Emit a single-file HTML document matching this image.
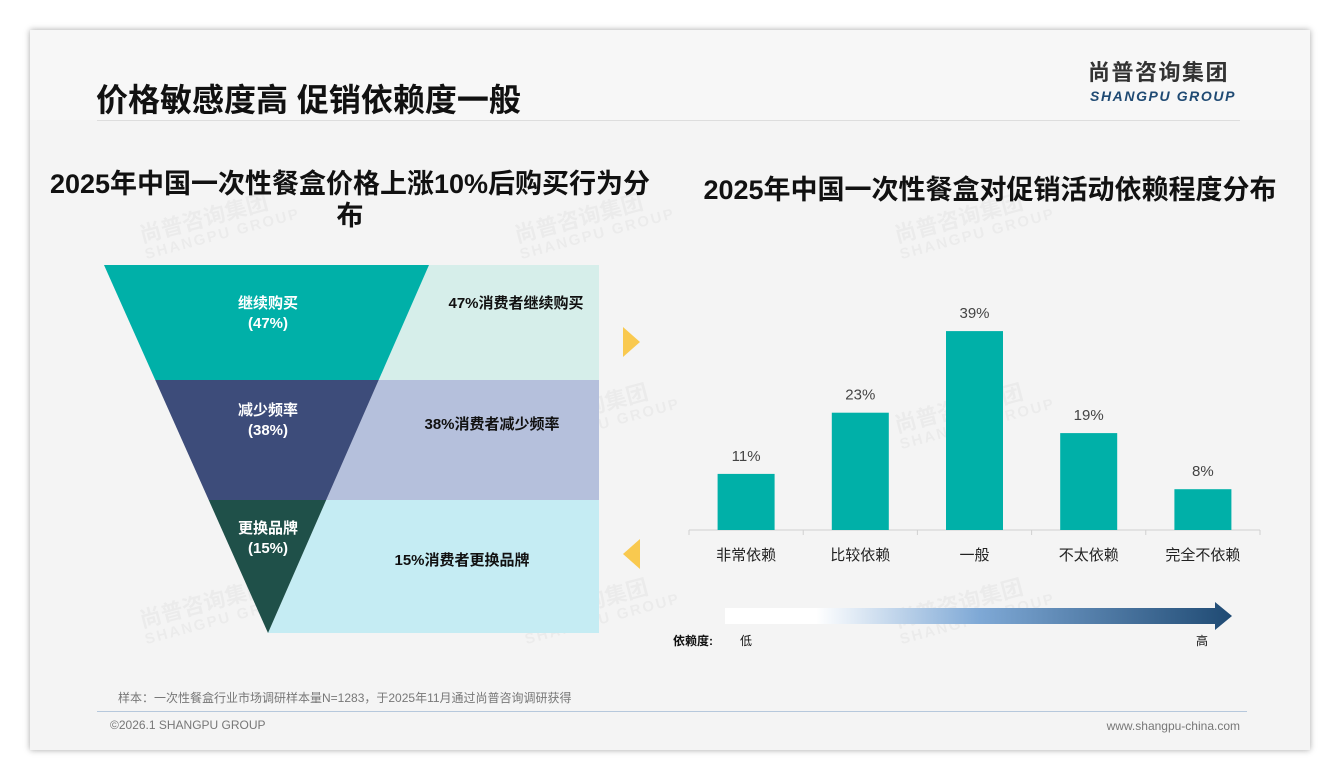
<!DOCTYPE html>
<html><head><meta charset="utf-8"><style>
body{margin:0;width:1340px;height:780px;background:#fff;font-family:"Liberation Sans","Noto Sans CJK SC",sans-serif;position:relative;overflow:hidden}
.slide{position:absolute;left:30px;top:30px;width:1280px;height:720px;background:#f4f4f4;box-shadow:0 0 6px rgba(0,0,0,.35)}
.abs{position:absolute}
.wm{position:absolute;color:rgba(0,0,0,0.035);font-weight:bold;transform:rotate(-15deg);font-size:22px;line-height:20px;white-space:nowrap}
.wm span{display:block;font-size:15px;letter-spacing:2px}
</style></head><body>
<div class="slide"></div>
<div class="abs" style="left:30px;top:30px;width:1280px;height:90px;background:#f7f7f7"></div>
<div class="abs" style="left:96px;top:75px;font-size:32px;font-weight:bold;color:#111">价格敏感度高 促销依赖度一般</div>
<div class="abs" style="left:1088px;top:59px;font-size:22px;line-height:28px;font-weight:bold;color:#333;letter-spacing:1.5px">尚普咨询集团</div>
<div class="abs" style="left:1090px;top:88px;font-size:14px;line-height:16px;font-weight:bold;font-style:italic;color:#1f4a73;letter-spacing:1.6px">SHANGPU GROUP</div>
<div class="abs" style="left:97px;top:120px;width:1143px;height:1px;background:#ddd"></div>

<div class="wm" style="left:140px;top:205px">尚普咨询集团<span>SHANGPU GROUP</span></div>
<div class="wm" style="left:515px;top:205px">尚普咨询集团<span>SHANGPU GROUP</span></div>
<div class="wm" style="left:895px;top:205px">尚普咨询集团<span>SHANGPU GROUP</span></div>
<div class="wm" style="left:520px;top:395px">尚普咨询集团<span>SHANGPU GROUP</span></div>
<div class="wm" style="left:895px;top:395px">尚普咨询集团<span>SHANGPU GROUP</span></div>
<div class="wm" style="left:140px;top:590px">尚普咨询集团<span>SHANGPU GROUP</span></div>
<div class="wm" style="left:520px;top:590px">尚普咨询集团<span>SHANGPU GROUP</span></div>
<div class="wm" style="left:895px;top:590px">尚普咨询集团<span>SHANGPU GROUP</span></div>

<div class="abs" style="left:10px;top:168px;width:680px;text-align:center;font-size:27px;font-weight:bold;line-height:32px;color:#111">2025年中国一次性餐盒价格上涨10%后购买行为分<br>布</div>
<div class="abs" style="left:670px;top:168px;width:640px;text-align:center;font-size:27px;font-weight:bold;color:#111">2025年中国一次性餐盒对促销活动依赖程度分布</div>

<svg class="abs" style="left:0;top:0" width="1340" height="780">
<g id="funnel"></g>
<polygon points="623,327 640,342 623,357" fill="#f9c94f"/>
<polygon points="640,539 623,554 640,569" fill="#f9c94f"/>
<g id="bars"></g>
<defs><linearGradient id="gr" x1="0" x2="1"><stop offset="0" stop-color="#fff"/><stop offset="0.18" stop-color="#fff"/><stop offset="0.5" stop-color="#7fa9d6"/><stop offset="1" stop-color="#1f4a73"/></linearGradient></defs>
<polygon points="725,608 1215,608 1215,602 1232,616 1215,630 1215,624 725,624" fill="url(#gr)"/>
<text x="673" y="645" font-size="12" font-weight="bold" fill="#111">依赖度:</text>
<text x="740" y="645" font-size="12" fill="#111">低</text>
<text x="1196" y="645" font-size="12" fill="#111">高</text>
</svg>

<div class="abs" style="left:118px;top:689px;font-size:12px;color:#777">样本：一次性餐盒行业市场调研样本量N=1283，于2025年11月通过尚普咨询调研获得</div>
<div class="abs" style="left:97px;top:711px;width:1150px;height:1px;background:#b6c8dc"></div>
<div class="abs" style="left:110px;top:718px;font-size:12px;color:#777">©2026.1 SHANGPU GROUP</div>
<div class="abs" style="left:1040px;top:719px;width:200px;text-align:right;font-size:12px;color:#777">www.shangpu-china.com</div>

<script>
const funnelLabels=["继续购买","减少频率","更换品牌"];
const funnelValues=[47,38,15];
const funnelNotes=["47%消费者继续购买","38%消费者减少频率","15%消费者更换品牌"];
const catLabels=["非常依赖","比较依赖","一般","不太依赖","完全不依赖"];
const barValues=[11,23,39,19,8];

const NS="http://www.w3.org/2000/svg";
function mk(tag,attrs,parent,text){const e=document.createElementNS(NS,tag);for(const k in attrs)e.setAttribute(k,attrs[k]);if(text!=null)e.textContent=text;parent.appendChild(e);return e;}
const fg=document.getElementById('funnel');
const fTop=265,fBot=633,apex=268,lTop=104,rTop=429;
const bandY=[265,380,500,633];
const fCol=["#00b0a8","#3d4c7a","#1f5049"],bCol=["#d6eeea","#b5c0dc","#c5ecf3"],noteX=[516,492,462];
const labelOff=[43,35,33],noteOff=[43,49,65];
const L=y=>lTop+(apex-lTop)*(y-fTop)/(fBot-fTop), R=y=>rTop-(rTop-apex)*(y-fTop)/(fBot-fTop);
funnelValues.forEach((v,i)=>{
 const y0=bandY[i],y1=bandY[i+1];
 const band=mk('polygon',{points:`${R(y0)},${y0} 599,${y0} 599,${y1} ${R(y1)},${y1}`,fill:bCol[i]},fg);
 
 
 const seg=mk('polygon',{points:`${L(y0)},${y0} ${R(y0)},${y0} ${R(y1)},${y1} ${L(y1)},${y1}`,fill:fCol[i]},fg);
 
 
 const ly=y0+labelOff[i];
 const t1=mk('text',{x:268,y:ly,'text-anchor':'middle','font-size':15,'font-weight':'bold',fill:'#fff'},fg,funnelLabels[i]);
 
 
 const t2=mk('text',{x:268,y:ly+20,'text-anchor':'middle','font-size':15,'font-weight':'bold',fill:'#fff'},fg,`(${v}%)`);
 
 
 const t3=mk('text',{x:noteX[i],y:y0+noteOff[i],'text-anchor':'middle','font-size':15,'font-weight':'bold',fill:'#111'},fg,funnelNotes[i]);
 
 
});
const bg=document.getElementById('bars');
const x0=689,x1=1260,base=530,pxPer=5.1,bw=57;
const step=(x1-x0)/catLabels.length;
const xc=i=>x0+step*(i+0.5), yv=v=>base-v*pxPer;
const ax=mk('line',{x1:x0,x2:x1,y1:base,y2:base,stroke:'#d0d0d0','stroke-width':1},bg);


for(let i=0;i<=catLabels.length;i++){const tk=mk('line',{x1:x0+step*i,x2:x0+step*i,y1:base,y2:base+5,stroke:'#d0d0d0'},bg);
 
 }
barValues.forEach((v,i)=>{
 const r=mk('rect',{x:xc(i)-bw/2,y:yv(v),width:bw,height:base-yv(v),fill:'#00b0a8'},bg);
 
 
 const t=mk('text',{x:xc(i),y:yv(v)-13,'text-anchor':'middle','font-size':15,fill:'#444'},bg,v+'%');
 
 
 const c=mk('text',{x:xc(i),y:560,'text-anchor':'middle','font-size':15,fill:'#222'},bg,catLabels[i]);
 
 
});
</script>
</body></html>
